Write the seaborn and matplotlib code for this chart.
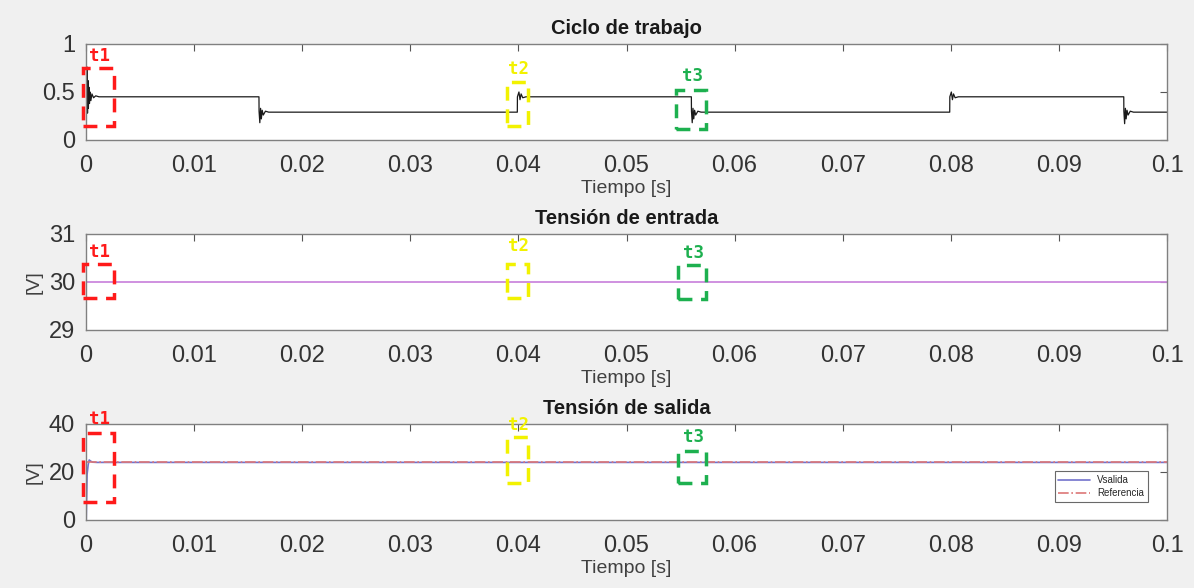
import matplotlib
matplotlib.use("Agg")
import matplotlib.pyplot as plt
import matplotlib.patches as patches
import seaborn as sns

sns.set_style("white")
plt.rcParams['font.family'] = ['Liberation Sans', 'DejaVu Sans']

# Ciclo de trabajo (duty cycle)
t_duty = [0.0, 0.00003, 0.00006, 0.0001, 0.00014, 0.00018, 0.00022, 0.00027, 0.00032,
          0.00038, 0.00045, 0.00055, 0.0007, 0.0009, 0.0012,
          0.016, 0.01601, 0.01608, 0.01615, 0.01622, 0.0163, 0.0164, 0.0166, 0.0169,
          0.0399, 0.03991, 0.04005, 0.04015, 0.04025, 0.0404, 0.0407,
          0.056, 0.05601, 0.05608, 0.05615, 0.05622, 0.0563, 0.0564, 0.0566, 0.0569,
          0.0799, 0.07991, 0.08005, 0.08015, 0.08025, 0.0804, 0.0807,
          0.096, 0.09601, 0.09608, 0.09615, 0.09622, 0.0963, 0.0964, 0.0966, 0.0969, 0.1]
duty = [0.45, 0.72, 0.30, 0.76, 0.28, 0.62, 0.33, 0.55, 0.38, 0.50, 0.41, 0.48, 0.44, 0.46, 0.45,
        0.45, 0.30, 0.18, 0.33, 0.22, 0.31, 0.26, 0.30, 0.29,
        0.29, 0.45, 0.50, 0.42, 0.48, 0.44, 0.45,
        0.45, 0.30, 0.18, 0.33, 0.22, 0.31, 0.26, 0.30, 0.29,
        0.29, 0.45, 0.50, 0.42, 0.48, 0.44, 0.45,
        0.45, 0.30, 0.17, 0.33, 0.22, 0.31, 0.26, 0.30, 0.29, 0.29]

# Tension de entrada
t_vin = [0.0, 0.1]
vin = [30.0, 30.0]

# Tension de salida
t_vout = [0.0, 0.00002, 0.0001, 0.00015, 0.0002, 0.0003, 0.0004, 0.0006, 0.001, 0.1]
vout = [0.0, 0.0, 19.0, 21.0, 23.0, 25.0, 24.6, 24.1, 24.0, 24.0]
t_ref = [0.0, 0.1]
vref = [24.0, 24.0]

xticks = [0, 0.01, 0.02, 0.03, 0.04, 0.05, 0.06, 0.07, 0.08, 0.09, 0.1]
xticklabels = ["0", "0.01", "0.02", "0.03", "0.04", "0.05", "0.06", "0.07", "0.08", "0.09", "0.1"]

# marked zones: (x0, x1, y0, y1, label, color, label_y)
boxes_top = [(-0.0003, 0.0026, 0.146, 0.75, "t1", "#ff1a1a", 0.88),
             (0.0389, 0.0409, 0.146, 0.60, "t2", "#f2f200", 0.74),
             (0.0546, 0.0574, 0.115, 0.52, "t3", "#1db04f", 0.67)]
boxes_mid = [(-0.0003, 0.0026, 29.67, 30.37, "t1", "#ff1a1a", 30.62),
             (0.0389, 0.0409, 29.67, 30.37, "t2", "#f2f200", 30.76),
             (0.0548, 0.0574, 29.65, 30.35, "t3", "#1db04f", 30.6)]
boxes_bot = [(-0.0003, 0.0026, 7.5, 36.2, "t1", "#ff1a1a", 42.0),
             (0.0389, 0.0409, 15.4, 34.6, "t2", "#f2f200", 39.5),
             (0.0548, 0.0574, 15.4, 28.7, "t3", "#1db04f", 34.6)]

fig = plt.figure(figsize=(11.94, 5.88), dpi=100)
fig.patch.set_facecolor("#f0f0f0")

W, H = 1194, 588
left, width = 86 / W, (1167 - 86) / W
ax1 = fig.add_axes([left, 1 - 140 / H, width, 96 / H])
ax2 = fig.add_axes([left, 1 - 330 / H, width, 96 / H])
ax3 = fig.add_axes([left, 1 - 520 / H, width, 96 / H])

sns.lineplot(x=t_duty, y=duty, ax=ax1, color="#1a1a1a", lw=0.9, sort=False, estimator=None)
sns.lineplot(x=t_vin, y=vin, ax=ax2, color="#cc88dd", lw=1.3, estimator=None)
sns.lineplot(x=t_vout, y=vout, ax=ax3, color="#7272cc", lw=1.2, estimator=None, label="Vsalida")
sns.lineplot(x=t_ref, y=vref, ax=ax3, color="#dd7777", lw=1.2, ls="-.", estimator=None, label="Referencia")

ax1.set_ylim(0, 1)
ax1.set_yticks([0, 0.5, 1])
ax1.set_yticklabels(["0", "0.5", "1"])
ax2.set_ylim(29, 31)
ax2.set_yticks([29, 30, 31])
ax3.set_ylim(0, 40)
ax3.set_yticks([0, 20, 40])

titles = ["Ciclo de trabajo", "Tensión de entrada", "Tensión de salida"]
for ax, title in zip([ax1, ax2, ax3], titles):
    ax.set_facecolor("white")
    ax.set_xlim(0, 0.1)
    ax.set_xticks(xticks)
    ax.set_xticklabels(xticklabels)
    ax.set_title(title, fontsize=14.5, fontweight="bold", color="#1a1a1a", pad=7)
    ax.set_xlabel("Tiempo [s]", fontsize=14, color="#404040", labelpad=2)
    ax.tick_params(direction="in", length=5, width=0.8, colors="#555555",
                   labelcolor="#333333", labelsize=17, top=True, right=True)
    ax.tick_params(axis="x", pad=11)
    ax.tick_params(axis="y", pad=8)
    for s in ax.spines.values():
        s.set_color("#808080")
        s.set_linewidth(1.0)

for ax in [ax2, ax3]:
    ax.set_ylabel("[V]", fontsize=14, color="#404040", labelpad=4)

for ax, boxes in zip([ax1, ax2, ax3], [boxes_top, boxes_mid, boxes_bot]):
    for x0, x1, y0, y1, lab, col, ly in boxes:
        rect = patches.Rectangle((x0, y0), x1 - x0, y1 - y0, fill=False, edgecolor=col,
                                 lw=2.5, ls=(0, (4, 2.5)), clip_on=False, zorder=5)
        ax.add_patch(rect)
        ax.text((x0 + x1) / 2 + 0.0001, ly, lab, color=col, fontsize=12.5, fontweight="bold",
                family=["DejaVu Sans Mono"], ha="center", va="center", clip_on=False, zorder=6)

leg = ax3.legend(loc="lower right", bbox_to_anchor=(0.987, 0.135), fontsize=7,
                 frameon=True, fancybox=False, edgecolor="#444444", borderpad=0.4,
                 handlelength=3.2, labelspacing=0.3)
leg.get_frame().set_linewidth(0.8)

fig.savefig("out.png", dpi=100, facecolor=fig.get_facecolor())
